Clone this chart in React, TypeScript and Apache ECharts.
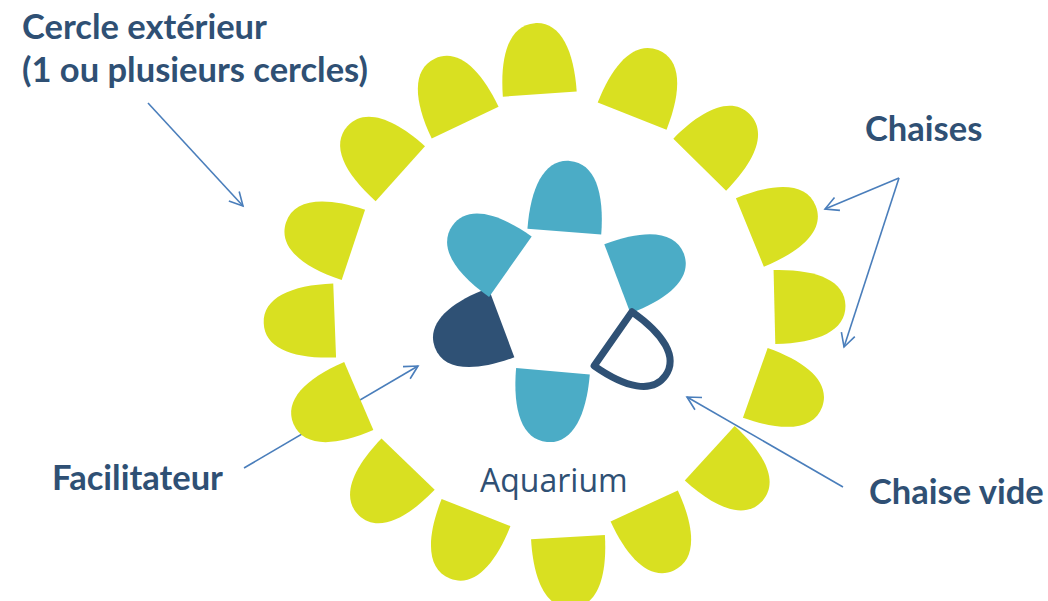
import React, { useEffect, useRef } from "react";
import * as echarts from "echarts";

// ---- data ----
// outer circle: 16 chairs, angle in degrees clockwise from top, radius in px units
const outerAngles = [356, 21.5, 44.5, 67.8, 88.7, 109.5, 132.4, 155.3, 176.7, 201.5, 224, 246.8, 267.8, 288.4, 311.8, 334.6];
const outerRadii = [254, 246, 242, 246, 255, 248, 245, 249, 261, 251, 247, 249, 256, 248, 243, 245];
// inner circle (aquarium): 6 chairs
const innerAngles = [4.4, 69.2, 125, 184.9, 249.5, 305.2];
const innerRadii = [105, 98, 98, 106, 97, 95];
const innerRoles = ["chair", "chair", "empty", "chair", "facilitator", "chair"];

const labels = {
  outer1: "Cercle extérieur",
  outer2: "(1 ou plusieurs cercles)",
  chairs: "Chaises",
  facilitator: "Facilitateur",
  empty: "Chaise vide",
  aquarium: "Aquarium",
};

const YELLOW = "#D9E021";
const BLUE = "#4BACC6";
const DARK = "#2F5175";
const TEXT = "#2F5074";
const ARROW = "#4A7EBB";

// rounded half-ellipse chair: flat base at +d/2, dome reaching -d/2
function chairPath(w: number, d: number) {
  const a = w / 2;
  const h = d / 2;
  const ks = 0.6; // along the sides
  const kt = 0.68; // across the top
  return `M ${-a} ${h} C ${-a} ${h - ks * d} ${-kt * a} ${-h} 0 ${-h} C ${kt * a} ${-h} ${a} ${h - ks * d} ${a} ${h} Z`;
}

function makeRender(roles: string[] | null) {
  const W = 74;
  const D = 71;
  return (params: any, api: any) => {
    const r = api.value(0);
    const ang = api.value(1);
    const pt = api.coord([r, ang]);
    const role = roles ? roles[params.dataIndex] : "outer";
    let w = W, d = D;
    let style: any = { fill: YELLOW };
    if (role === "chair") style = { fill: BLUE };
    if (role === "facilitator") style = { fill: DARK };
    if (role === "empty") {
      w = W - 8;
      d = D - 7;
      style = { fill: "none", stroke: DARK, lineWidth: 7, lineJoin: "round" };
    }
    return {
      type: "path",
      x: pt[0],
      y: pt[1],
      rotation: (-ang * Math.PI) / 180,
      shape: { pathData: chairPath(w, d), x: -w / 2, y: -d / 2, width: w, height: d },
      style,
    };
  };
}

function arrow(x1: number, y1: number, x2: number, y2: number) {
  const ang = Math.atan2(y2 - y1, x2 - x1);
  const L = 15;
  const spread = (28 * Math.PI) / 180;
  const p1 = [x2 - L * Math.cos(ang - spread), y2 - L * Math.sin(ang - spread)];
  const p2 = [x2 - L * Math.cos(ang + spread), y2 - L * Math.sin(ang + spread)];
  return [
    { type: "line", shape: { x1, y1, x2, y2 }, style: { stroke: ARROW, lineWidth: 1.6 } },
    { type: "polyline", shape: { points: [p1, [x2, y2], p2] }, style: { stroke: ARROW, lineWidth: 1.6, fill: null } },
  ];
}

function txt(text: string, x: number, y: number, size: number, bold = true) {
  return {
    type: "text",
    x,
    y,
    style: {
      text,
      fill: TEXT,
      font: `${bold ? "bold " : ""}${size}px ${bold ? "Lato" : "'Open Sans'"}`,
      textAlign: "left",
      textVerticalAlign: "middle",
      verticalAlign: "middle",
    },
  };
}

export default function App() {
  const ref = useRef<HTMLDivElement>(null);
  useEffect(() => {
    document.body.style.margin = "0";
    const chart = echarts.init(ref.current!, null, { renderer: "svg" });
    const outerData = outerAngles.map((a, i) => [outerRadii[i], a]);
    const innerData = innerAngles.map((a, i) => [innerRadii[i], a]);
    chart.setOption({
      animation: false,
      backgroundColor: "#ffffff",
      polar: [
        { center: [555, 312], radius: 300 },
        { center: [559, 301], radius: 300 },
      ],
      angleAxis: [
        { polarIndex: 0, min: 0, max: 360, startAngle: 90, clockwise: true, show: false },
        { polarIndex: 1, min: 0, max: 360, startAngle: 90, clockwise: true, show: false },
      ],
      radiusAxis: [
        { polarIndex: 0, min: 0, max: 300, show: false },
        { polarIndex: 1, min: 0, max: 300, show: false },
      ],
      series: [
        { type: "custom", coordinateSystem: "polar", polarIndex: 0, data: outerData, renderItem: makeRender(null), silent: true },
        { type: "custom", coordinateSystem: "polar", polarIndex: 1, data: innerData, renderItem: makeRender(innerRoles), silent: true },
      ],
      graphic: [
        txt(labels.outer1, 22, 25.5, 34.5),
        txt(labels.outer2, 22, 68.5, 34.5),
        txt(labels.chairs, 865, 127.5, 34.5),
        txt(labels.facilitator, 52, 476.5, 34.5),
        txt(labels.empty, 869, 490.5, 34.5),
        txt(labels.aquarium, 480, 479, 32, false),
        ...arrow(148, 103, 243, 206),
        ...arrow(899, 178, 825, 209),
        ...arrow(899, 178, 844, 347),
        ...arrow(244, 468, 418, 366),
        ...arrow(843, 487, 687, 397),
      ],
    });
    return () => chart.dispose();
  }, []);
  return <div ref={ref} style={{ width: 1048, height: 601 }} />;
}
